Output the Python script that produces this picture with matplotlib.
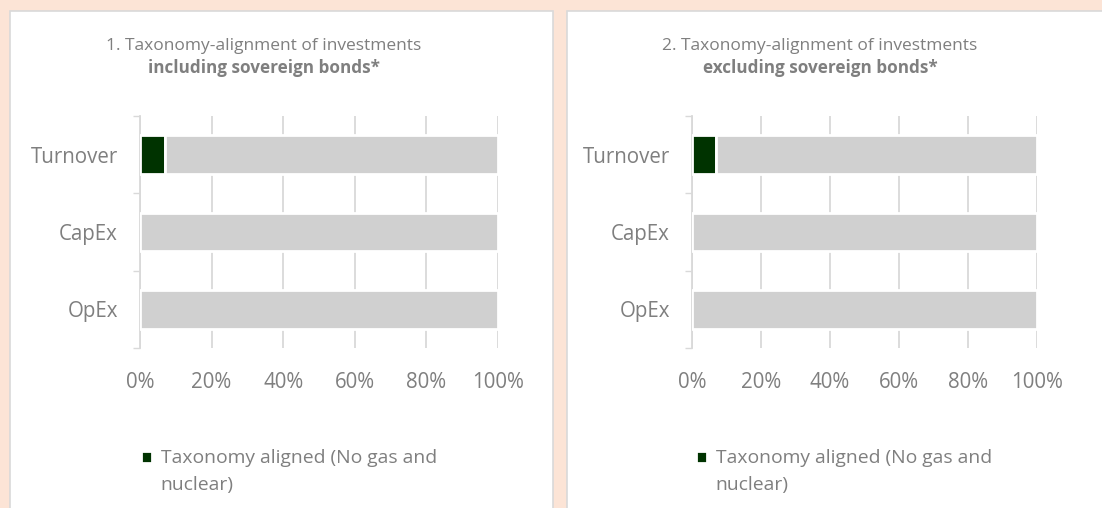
import matplotlib
matplotlib.use("Agg")
import matplotlib.pyplot as plt
from matplotlib.patches import Rectangle
from matplotlib.legend_handler import HandlerPatch

categories = ["Turnover", "CapEx", "OpEx"]
aligned_incl = [7, 0, 0]
other_incl = [93, 100, 100]
aligned_excl = [7, 0, 0]
other_excl = [93, 100, 100]
xticks = [0, 20, 40, 60, 80, 100]
xticklabels = ["0%", "20%", "40%", "60%", "80%", "100%"]
titles = [("1. Taxonomy-alignment of investments", "including sovereign bonds*"),
          ("2. Taxonomy-alignment of investments", "excluding sovereign bonds*")]
legend_label = "Taxonomy aligned (No gas and\nnuclear)"

FONT = "Open Sans"
plt.rcParams["font.family"] = [FONT, "DejaVu Sans"]
TXT = "#7F7F7F"
GRID = "#D9D9D9"
GREEN = "#003300"
GREY = "#D0D0D0"

W, H = 1102, 508
fig = plt.figure(figsize=(W / 100, H / 100), dpi=100, facecolor="#FCE4D6")

# white panels
for (x0, x1) in [(10, 553), (567, 1110)]:
    fig.patches.append(Rectangle((x0 / W, -0.05), (x1 - x0) / W, (H - 11) / H + 0.05,
                                 transform=fig.transFigure, facecolor="white",
                                 edgecolor=GRID, linewidth=1.2, zorder=-5))


def first_line_patch(legend, orig_handle, xdescent, ydescent, width, height, fontsize):
    # place the legend square next to the first line of a two-line label
    return Rectangle((-xdescent, -ydescent + 0.78 * fontsize), width, height)


axes_px = [(140, 498), (692, 1037)]
title_cx = [264, 820]
legend_x = [124, 679]
data = [(aligned_incl, other_incl), (aligned_excl, other_excl)]

for i in range(2):
    x0, x1 = axes_px[i]
    ax = fig.add_axes([x0 / W, (H - 348) / H, (x1 - x0) / W, (348 - 116) / H])
    ax.set_zorder(2)
    ax.set_facecolor("none")
    al, ot = data[i]
    y = list(range(len(categories)))
    b1 = ax.barh(y, al, height=0.5, color=GREEN, edgecolor="white", linewidth=2.0,
                 zorder=3, label=legend_label)
    ax.barh(y, ot, left=al, height=0.5, color=GREY, edgecolor="white", linewidth=2.0,
            zorder=3)
    ax.set_xlim(0, 100)
    ax.set_ylim(2.5, -0.5)
    ax.set_xticks(xticks)
    ax.set_xticklabels(xticklabels)
    ax.set_yticks(y)
    ax.set_yticklabels(categories)
    ax.set_yticks([-0.5, 0.5, 1.5, 2.5], minor=True)
    ax.tick_params(axis="y", which="major", length=0, pad=16, labelsize=14.8, labelcolor=TXT)
    ax.tick_params(axis="y", which="minor", length=5, width=1, color=GRID)
    ax.tick_params(axis="x", which="major", length=0, pad=17, labelsize=14.8, labelcolor=TXT)
    ax.grid(axis="x", color=GRID, linewidth=1.3, zorder=0)
    for s in ["top", "right", "bottom"]:
        ax.spines[s].set_visible(False)
    ax.spines["left"].set_color(GRID)
    ax.spines["left"].set_linewidth(1.3)

    fig.text(title_cx[i] / W, 1 - 46 / H, titles[i][0], ha="center", va="center",
             fontsize=12.5, color=TXT)
    fig.text(title_cx[i] / W, 1 - 68 / H, titles[i][1], ha="center", va="center",
             fontsize=12.3, color=TXT, fontweight="bold")

    leg = fig.legend(handles=[b1[0]], labels=[legend_label], loc="upper left",
                     bbox_to_anchor=(legend_x[i] / W, 1 - 432 / H), frameon=False,
                     fontsize=13.9, handlelength=0.55, handleheight=0.55, handletextpad=0.45,
                     labelcolor=TXT,
                     handler_map={type(b1[0]): HandlerPatch(patch_func=first_line_patch)})
    for t in leg.get_texts():
        t.set_linespacing(1.65)

fig.savefig("out.png", dpi=100, facecolor=fig.get_facecolor())
